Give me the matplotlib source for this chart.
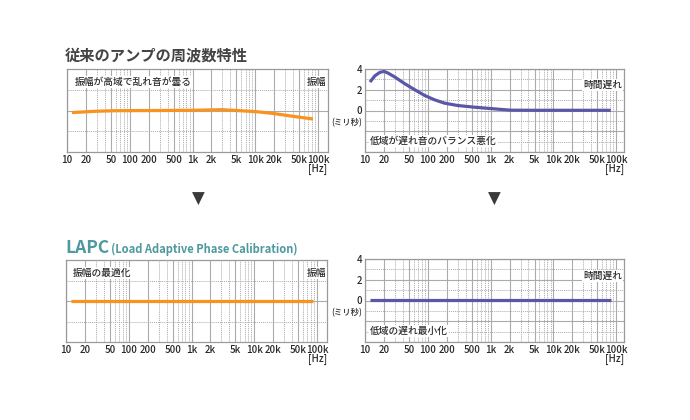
import matplotlib
matplotlib.use("Agg")
import matplotlib.pyplot as plt
from matplotlib.ticker import FixedLocator, NullFormatter

plt.rcParams['font.family'] = ['Noto Sans CJK JP', 'DejaVu Sans']

# ---- data ----
tick_freqs = [10, 20, 50, 100, 200, 500, 1000, 2000, 5000, 10000, 20000, 50000, 100000]
tick_labels = ["10", "20", "50", "100", "200", "500", "1k", "2k", "5k", "10k", "20k", "50k", "100k"]

amp_old_f = [12, 27, 57, 1000, 2900, 5700, 10600, 19000, 40000, 83000]
amp_old_v = [-0.10, -0.04, -0.01, 0.01, 0.04, -0.01, -0.06, -0.14, -0.28, -0.41]

delay_old_f = [12, 14.4, 17.3, 20.2, 23.4, 29.8, 43, 62, 89, 128, 184, 300, 550, 1140, 2100, 5000, 20000, 82000]
delay_old_v = [2.74, 3.35, 3.68, 3.77, 3.60, 3.23, 2.58, 2.00, 1.45, 1.03, 0.71, 0.48, 0.32, 0.16, 0.03, 0.02, 0.02, 0.02]

amp_new_f = [12, 87000]
amp_new_v = [0.0, 0.0]

delay_new_f = [12, 82000]
delay_new_v = [0.05, 0.05]

W, H = 690, 420
fig = plt.figure(figsize=(6.9, 4.2), dpi=100)

ORANGE = "#f7931e"
PURPLE = "#5b57a8"
GRID = "#ababab"
TXT = "#2a2a2a"

def px_axes(x0, y0, x1, y1):
    return fig.add_axes([x0 / W, 1 - y1 / H, (x1 - x0) / W, (y1 - y0) / H])

def ftext(x, y, s, **kw):
    fig.text(x / W, 1 - y / H, s, **kw)

minor_f = []
for d in [10, 100, 1000, 10000, 100000]:
    for m in [3, 4, 6, 7, 8, 9]:
        if d * m <= 140000:
            minor_f.append(d * m)

def setup(ax, xlim, ylim, major_y, minor_y, ylabels=False):
    ax.set_xscale('log')
    ax.set_xlim(*xlim)
    ax.set_ylim(*ylim)
    ax.xaxis.set_major_locator(FixedLocator(tick_freqs))
    ax.set_xticklabels(tick_labels)
    ax.xaxis.set_minor_locator(FixedLocator(minor_f))
    ax.xaxis.set_minor_formatter(NullFormatter())
    ax.yaxis.set_major_locator(FixedLocator(major_y))
    ax.yaxis.set_minor_locator(FixedLocator(minor_y))
    ax.yaxis.set_minor_formatter(NullFormatter())
    ax.grid(True, which='major', color=GRID, lw=0.8, ls='-')
    ax.grid(True, which='minor', color=GRID, lw=0.7, ls=(0, (1, 1)))
    ax.tick_params(which='both', length=0, labelsize=7, colors=TXT, pad=2)
    for lab in ax.get_xticklabels() + ax.get_yticklabels():
        lab.set_fontweight('medium')
    if ylabels:
        ax.set_yticklabels(["4" if v == 4 else "2" if v == 2 else "0" if v == 0 else "" for v in major_y],
                           fontweight='medium')
    else:
        ax.set_yticklabels([])
    for s in ax.spines.values():
        s.set_color("#9a9a9a")
        s.set_linewidth(0.9)
    ax.set_axisbelow(True)

box = dict(facecolor='white', edgecolor='none', pad=0.6)
tk = dict(fontsize=7, color=TXT, va='center', fontweight='medium')

# ---- top-left: conventional amplitude ----
ax1 = px_axes(67, 69, 328, 152)
setup(ax1, (10, 144000), (-2, 2), [0], [-1, 1])
ax1.plot(amp_old_f, amp_old_v, color=ORANGE, lw=2.3, solid_capstyle='butt')
ftext(75, 82, "振幅が高域で乱れ音が曇る", ha='left', bbox=box, **tk)
ftext(326, 82, "振幅", ha='right', bbox=box, **tk)
ftext(327, 169, "[Hz]", ha='right', **tk)

# ---- top-right: conventional delay ----
ax2 = px_axes(365, 69, 624, 152)
setup(ax2, (10, 133000), (-4, 4), [-4, -2, 0, 2, 4], [-3, -1, 1, 3], ylabels=True)
ax2.plot(delay_old_f, delay_old_v, color=PURPLE, lw=2.3, solid_capstyle='butt')
ftext(622, 85, "時間遅れ", ha='right', bbox=box, **tk)
ftext(370, 141, "低域が遅れ音のバランス悪化", ha='left', bbox=box, **tk)
ftext(362, 123, "(ミリ秒)", fontsize=6, color=TXT, va='center', ha='right', fontweight='medium')
ftext(624, 169, "[Hz]", ha='right', **tk)

# ---- bottom-left: LAPC amplitude ----
ax3 = px_axes(66, 260, 327, 342)
setup(ax3, (10, 144000), (-2, 2), [0], [-1, 1])
ax3.plot(amp_new_f, amp_new_v, color=ORANGE, lw=2.3, solid_capstyle='butt')
ftext(73, 273, "振幅の最適化", ha='left', bbox=box, **tk)
ftext(326, 273, "振幅", ha='right', bbox=box, **tk)
ftext(327, 359, "[Hz]", ha='right', **tk)

# ---- bottom-right: LAPC delay ----
ax4 = px_axes(365, 259, 624, 342)
setup(ax4, (10, 133000), (-4, 4), [-4, -2, 0, 2, 4], [-3, -1, 1, 3], ylabels=True)
ax4.plot(delay_new_f, delay_new_v, color=PURPLE, lw=2.3, solid_capstyle='butt')
ftext(622, 276, "時間遅れ", ha='right', bbox=box, **tk)
ftext(370, 331, "低域の遅れ最小化", ha='left', bbox=box, **tk)
ftext(362, 313, "(ミリ秒)", fontsize=6, color=TXT, va='center', ha='right', fontweight='medium')
ftext(624, 359, "[Hz]", ha='right', **tk)

# ---- titles ----
ftext(65, 55, "従来のアンプの周波数特性", fontsize=11, fontweight='bold', color="#444444", va='center', ha='left')
TEAL = "#4e98a0"
ftext(65, 248, "LAPC", fontsize=12.5, fontweight='bold', color=TEAL, va='center', ha='left')
ftext(111, 249, "(Load Adaptive Phase Calibration)", fontsize=8, fontweight='bold', color=TEAL, va='center', ha='left')

# ---- arrows ----
ftext(198, 199, "▼", fontsize=12, color="#3a3a3a", va='center', ha='center', family='DejaVu Sans')
ftext(494, 199, "▼", fontsize=12, color="#3a3a3a", va='center', ha='center', family='DejaVu Sans')

fig.savefig("out.png", dpi=100, facecolor='white')
